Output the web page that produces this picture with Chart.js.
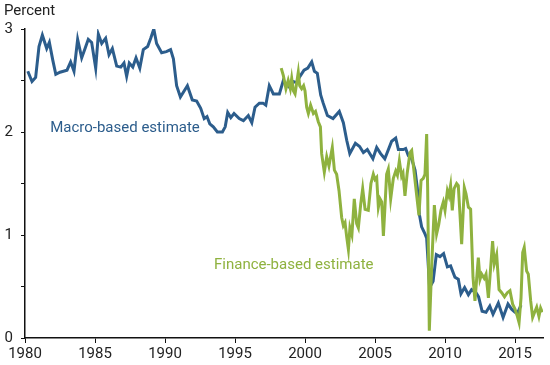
<!DOCTYPE html>
<html lang="en">
<head>
  <meta charset="UTF-8">
  <title>Macro vs finance estimates</title>
  <script src="https://cdn.jsdelivr.net/npm/chart.js"></script>
  <style>
    body {
      margin: 0;
      background: #fff;
    }
    .wrap {
      width: 550px;
      height: 365px;
    }
  </style>
</head>
<body>
  <div class="wrap">
    <canvas id="estChart"></canvas>
  </div>

  <script>
    // values
    const macroYears = [
      1980.2, 1980.5, 1980.76, 1981.0, 1981.24, 1981.55, 1981.74, 1981.98, 1982.2, 1982.5,
      1983.0, 1983.26, 1983.5, 1983.76, 1984.05, 1984.29, 1984.52, 1984.76, 1985.05, 1985.24,
      1985.48, 1985.76, 1986.0, 1986.24, 1986.55, 1986.84, 1987.07, 1987.26, 1987.45, 1987.7,
      1987.93, 1988.2, 1988.45, 1988.76, 1988.98, 1989.2, 1989.4, 1989.76, 1990.1, 1990.4,
      1990.6, 1990.83, 1991.1, 1991.6, 1991.95, 1992.26, 1992.55, 1992.8, 1993.0, 1993.2,
      1993.45, 1993.74, 1994.1, 1994.3, 1994.48, 1994.7, 1994.93, 1995.3, 1995.6, 1995.95,
      1996.2, 1996.43, 1996.74, 1997.0, 1997.2, 1997.45, 1997.74, 1998.17, 1998.45, 1998.7,
      1998.93, 1999.17, 1999.4, 1999.64, 1999.93, 2000.2, 2000.48, 2000.67, 2000.88, 2001.12,
      2001.3, 2001.6, 2002.0, 2002.45, 2002.74, 2002.98, 2003.2, 2003.6, 2003.9, 2004.17,
      2004.45, 2004.85, 2005.12, 2005.4, 2005.7, 2006.19, 2006.48, 2006.67, 2007.02, 2007.19,
      2007.38, 2007.62, 2007.86, 2008.02, 2008.17, 2008.33, 2008.57, 2008.69, 2008.9, 2009.15,
      2009.38, 2009.64, 2009.9, 2010.17, 2010.4, 2010.71, 2010.95, 2011.14, 2011.4, 2011.67,
      2011.9, 2012.21, 2012.4, 2012.65, 2012.93, 2013.2, 2013.43, 2013.81, 2014.15, 2014.5,
      2014.76, 2015.0, 2015.17, 2015.43
    ];
    const macroValues = [
      2.59, 2.49, 2.53, 2.83, 2.94, 2.81, 2.87, 2.70, 2.56, 2.58,
      2.60, 2.68, 2.59, 2.90, 2.72, 2.81, 2.90, 2.87, 2.62, 2.95,
      2.86, 2.91, 2.75, 2.81, 2.64, 2.63, 2.67, 2.54, 2.67, 2.63,
      2.72, 2.62, 2.80, 2.83, 2.91, 3.00, 2.86, 2.77, 2.78, 2.80,
      2.71, 2.45, 2.34, 2.45, 2.31, 2.30, 2.23, 2.13, 2.15, 2.08,
      2.05, 2.00, 2.00, 2.05, 2.19, 2.14, 2.18, 2.13, 2.11, 2.16,
      2.09, 2.24, 2.28, 2.28, 2.26, 2.45, 2.37, 2.37, 2.50, 2.46,
      2.43, 2.49, 2.48, 2.54, 2.60, 2.62, 2.68, 2.59, 2.57, 2.36,
      2.28, 2.16, 2.13, 2.20, 2.09, 1.92, 1.79, 1.89, 1.86, 1.80,
      1.83, 1.74, 1.85, 1.79, 1.74, 1.91, 1.94, 1.83, 1.83, 1.84,
      1.77, 1.74, 1.63, 1.46, 1.20, 1.08, 1.01, 0.97, 0.49, 0.55,
      0.81, 0.79, 0.82, 0.69, 0.70, 0.59, 0.57, 0.43, 0.49, 0.42,
      0.47, 0.44, 0.40, 0.26, 0.25, 0.31, 0.23, 0.34, 0.20, 0.33,
      0.28, 0.25, 0.24, 0.32
    ];

    const financeYears = [
      1998.3, 1998.45, 1998.64, 1998.8, 1998.95, 1999.05, 1999.17, 1999.29, 1999.52, 1999.62,
      1999.76, 1999.9, 2000.0, 2000.12, 2000.24, 2000.4, 2000.6, 2000.75, 2000.95, 2001.1,
      2001.19, 2001.38, 2001.55, 2001.71, 2001.95, 2002.1, 2002.26, 2002.43, 2002.62, 2002.74,
      2002.86, 2002.98, 2003.1, 2003.21, 2003.35, 2003.52, 2003.69, 2003.81, 2003.98, 2004.12,
      2004.29, 2004.52, 2004.71, 2004.88, 2005.0, 2005.12, 2005.24, 2005.36, 2005.48, 2005.6,
      2005.71, 2005.83, 2005.95, 2006.12, 2006.31, 2006.48, 2006.6, 2006.74, 2006.9, 2007.0,
      2007.14, 2007.3, 2007.5, 2007.62, 2007.81, 2007.98, 2008.14, 2008.29, 2008.45, 2008.57,
      2008.69, 2008.76, 2008.88, 2009.05, 2009.24, 2009.4, 2009.55, 2009.71, 2009.88, 2010.0,
      2010.17, 2010.28, 2010.4, 2010.52, 2010.65, 2010.83, 2010.95, 2011.07, 2011.19, 2011.38,
      2011.5, 2011.67, 2011.83, 2012.0, 2012.14, 2012.38, 2012.5, 2012.62, 2012.8, 2012.93,
      2013.1, 2013.26, 2013.4, 2013.52, 2013.69, 2013.86, 2014.05, 2014.25, 2014.45, 2014.64,
      2014.83, 2015.0, 2015.17, 2015.29, 2015.43, 2015.55, 2015.66, 2015.83, 2015.95, 2016.12,
      2016.26, 2016.43, 2016.55, 2016.71, 2016.83, 2016.95
    ];
    const financeValues = [
      2.62, 2.55, 2.42, 2.50, 2.42, 2.52, 2.40, 2.37, 2.58, 2.45,
      2.42, 2.45, 2.40, 2.24, 2.18, 2.26, 2.18, 2.20, 2.10, 2.05,
      1.79, 1.61, 1.76, 1.67, 1.85, 1.63, 1.59, 1.43, 1.17, 1.09,
      1.12, 0.98, 0.86, 1.07, 1.00, 1.35, 1.11, 1.07, 1.30, 1.45,
      1.25, 1.24, 1.50, 1.59, 1.54, 1.56, 1.27, 1.35, 1.32, 0.99,
      1.27, 1.59, 1.64, 1.35, 1.55, 1.62, 1.58, 1.72, 1.57, 1.60,
      1.38, 1.60, 1.80, 1.82, 1.59, 1.38, 1.19, 1.53, 1.55, 1.59,
      1.98, 1.46, 0.07, 0.70, 1.29, 1.01, 1.10, 1.24, 1.32, 1.24,
      1.43, 1.38, 1.48, 1.24, 1.45, 1.50, 1.48, 1.20, 0.91, 1.46,
      1.40, 1.27, 1.25, 0.59, 0.36, 0.78, 0.57, 0.62, 0.58, 0.62,
      0.39, 0.68, 0.94, 0.72, 0.81, 0.47, 0.44, 0.40, 0.44, 0.46,
      0.33, 0.28, 0.21, 0.15, 0.39, 0.83, 0.88, 0.65, 0.62, 0.36,
      0.20, 0.26, 0.30, 0.21, 0.29, 0.25
    ];

    const xTicks = [1980, 1985, 1990, 1995, 2000, 2005, 2010, 2015];
    const yTicks = [0, 1, 2, 3];

    const BLUE = '#2c5d8c';
    const GREEN = '#8fb23f';

    const toPoints = (xs, ys) => xs.map((x, i) => ({ x: x, y: ys[i] }));

    // series labels placed in data units
    const seriesLabels = [
      { text: 'Macro-based estimate', x: 1981.8, y: 2.04, color: BLUE },
      { text: 'Finance-based estimate', x: 1993.5, y: 0.71, color: GREEN }
    ];

    const labelPlugin = {
      id: 'seriesLabels',
      afterDatasetsDraw(chart) {
        const { ctx, scales } = chart;
        ctx.save();
        ctx.font = '15px Roboto';
        ctx.textBaseline = 'middle';
        ctx.textAlign = 'left';
        seriesLabels.forEach(l => {
          ctx.fillStyle = l.color;
          ctx.fillText(l.text, scales.x.getPixelForValue(l.x), scales.y.getPixelForValue(l.y));
        });
        ctx.restore();
      }
    };

    const ctx = document.getElementById('estChart').getContext('2d');
    new Chart(ctx, {
      type: 'line',
      data: {
        datasets: [
          {
            label: 'Finance-based estimate',
            data: toPoints(financeYears, financeValues),
            borderColor: GREEN,
            borderWidth: 3,
            pointRadius: 0,
            tension: 0
          },
          {
            label: 'Macro-based estimate',
            data: toPoints(macroYears, macroValues),
            borderColor: BLUE,
            borderWidth: 3,
            pointRadius: 0,
            tension: 0
          }
        ]
      },
      options: {
        responsive: true,
        maintainAspectRatio: false,
        animation: false,
        layout: { padding: { left: 4, right: 7, top: 0, bottom: 0 } },
        plugins: {
          legend: { display: false },
          tooltip: { enabled: false },
          title: {
            display: true,
            text: 'Percent',
            align: 'start',
            color: '#222',
            font: { family: 'Roboto', size: 15, weight: 'normal' },
            padding: { top: 2, bottom: 9 }
          }
        },
        scales: {
          x: {
            type: 'linear',
            min: 1980,
            max: 2017,
            afterBuildTicks: axis => { axis.ticks = xTicks.map(v => ({ value: v })); },
            ticks: {
              color: '#222',
              font: { family: 'Roboto', size: 15 },
              padding: 2,
              maxRotation: 0,
              callback: v => String(v)
            },
            grid: { drawOnChartArea: false, drawTicks: true, tickLength: 5, color: '#111' },
            border: { color: '#111', width: 1.5 }
          },
          y: {
            min: 0,
            max: 3,
            afterFit: axis => { axis.width = 21; },
            afterBuildTicks: axis => {
              axis.ticks = [0, 0.5, 1, 1.5, 2, 2.5, 3].map(v => ({ value: v }));
            },
            ticks: {
              color: '#222',
              font: { family: 'Roboto', size: 15 },
              padding: 8,
              callback: v => (yTicks.includes(v) ? String(v) : '')
            },
            grid: { drawOnChartArea: false, drawTicks: true, tickLength: 4, color: '#111' },
            border: { color: '#111', width: 1.5 }
          }
        }
      },
      plugins: [labelPlugin]
    });
  </script>
</body>
</html>
